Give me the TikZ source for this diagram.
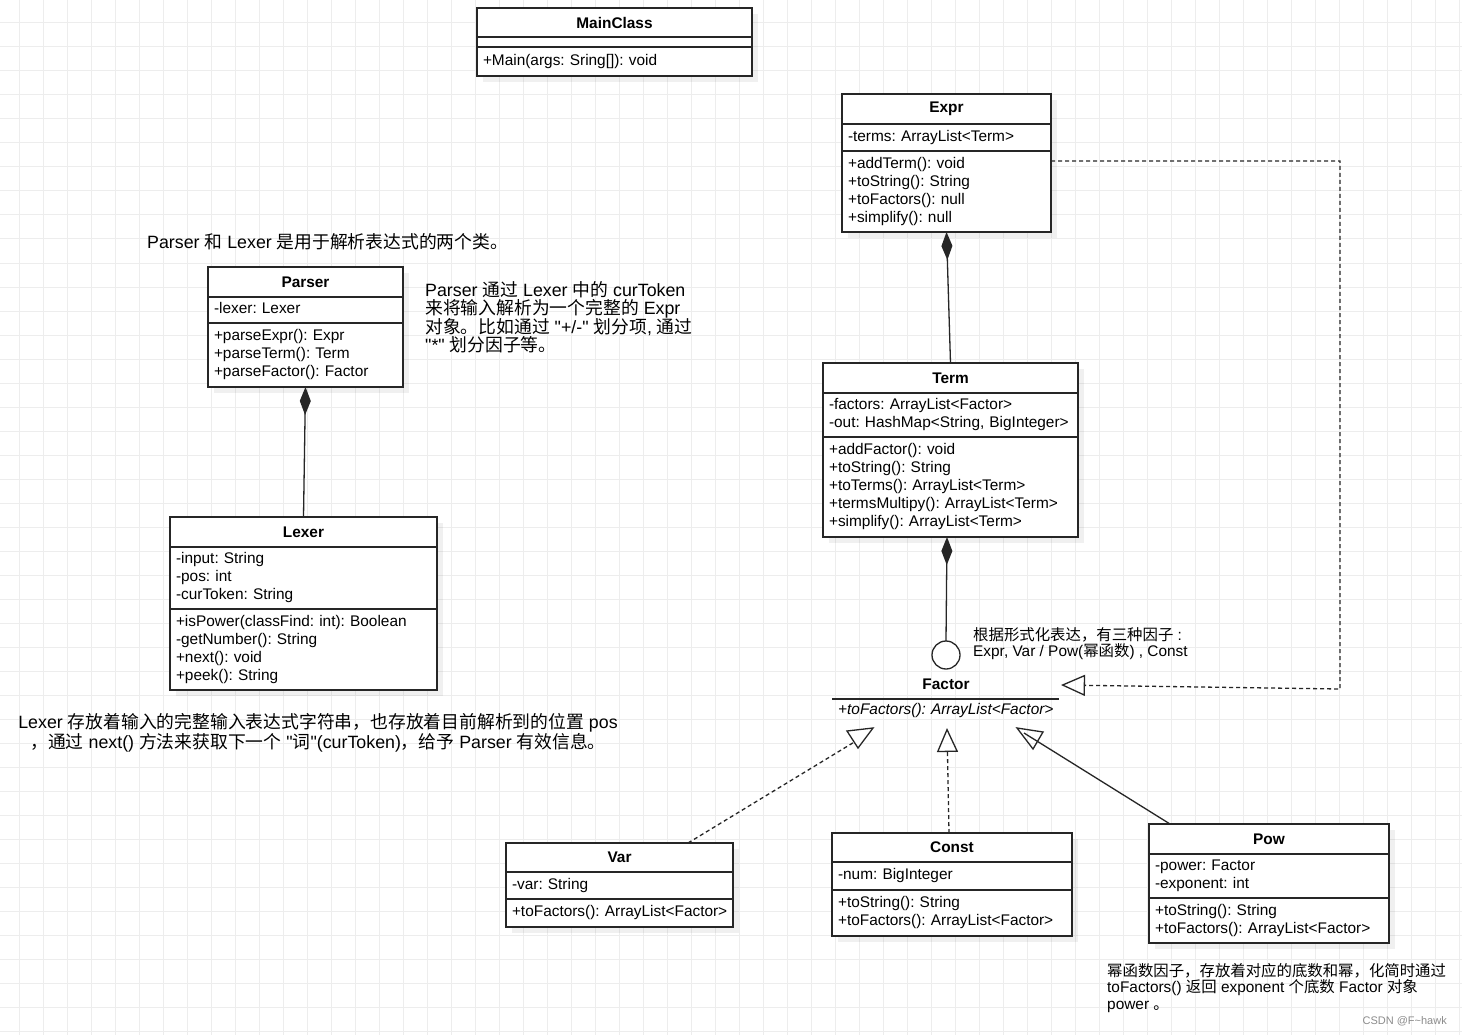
\documentclass[tikz,border=0pt]{standalone}
\usepackage{fontspec}
\setmainfont{Liberation Sans}
\newfontfamily\cjk{Noto Sans CJK SC}
\newcommand{\zh}[1]{{\cjk #1}}
\frenchspacing
\usetikzlibrary{arrows.meta, calc, shadows}
\tikzset{
  gridline/.style={draw=black!7, line width=1pt},
  boxline/.style={draw=black!85, line width=1.3pt, fill=white, outer sep=0pt},
  clsshadow/.style={drop shadow={shadow xshift=6pt, shadow yshift=-6pt, fill=black, opacity=0.06}},
  clshead/.style={boxline, clsshadow, anchor=north west, minimum width=#1, inner sep=0pt,
    font=\fontsize{15.4}{18}\selectfont\bfseries},
  clsbody/.style={anchor=north west, minimum width=#1, text width=#1-12pt,
    inner xsep=6pt, inner ysep=0pt, align=left, font=\fontsize{15.4}{18}\selectfont,
    execute at begin node=\strut, execute at end node=\strut},
  clspart/.style={boxline, clsshadow, clsbody=#1},
  note/.style={inner sep=0pt, font=\fontsize{17.8}{18}\selectfont},
  smallnote/.style={inner sep=0pt, font=\fontsize{15.4}{16.5}\selectfont},
  link/.style={line width=1.3pt, draw=black!85},
  realize/.style={link, dash pattern=on 4pt off 3pt},
  owns/.style={link, {Diamond[length=28pt, width=11pt]}-},
  hollow/.style={-{Triangle[open, length=24pt, width=21pt]}}
}

\begin{document}
\begin{tikzpicture}[x=1pt, y=-1pt]
  \useasboundingbox (0,0) rectangle (1462,1035);
  \fill[white] (0,0) rectangle (1462,1035);
  \foreach \gx in {19.5,43.5,...,1462} \draw[gridline] (\gx,0) -- (\gx,1035);
  \foreach \gy in {23,47,...,1035} \draw[gridline] (0,\gy) -- (1462,\gy);

  % classes
  \node[clshead=275, minimum height=29] (main) at (477,8) {MainClass};
  \node[clshead=275, minimum height=10] (main-f) at (main.south west) {};
  \node[clspart=275, minimum height=29] (main-m) at (main-f.south west) {+Main(args: Sring[]): void};

  \node[clshead=209, minimum height=30] (expr) at (842,94) {Expr};
  \node[clspart=209, minimum height=27] (expr-f) at (expr.south west) {-terms: ArrayList<Term>};
  \node[clspart=209, minimum height=81] (expr-m) at (expr-f.south west) {+addTerm(): void\\+toString(): String\\+toFactors(): null\\+simplify(): null};

  \node[clshead=195, minimum height=30] (parser) at (208,267) {Parser};
  \node[clspart=195, minimum height=26] (parser-f) at (parser.south west) {-lexer: Lexer};
  \node[clspart=195, minimum height=64] (parser-m) at (parser-f.south west) {+parseExpr(): Expr\\+parseTerm(): Term\\+parseFactor(): Factor};

  \node[clshead=267, minimum height=30] (lexer) at (170,517) {Lexer};
  \node[clspart=267, minimum height=62] (lexer-f) at (lexer.south west) {-input: String\\-pos: int\\-curToken: String};
  \node[clspart=267, minimum height=81] (lexer-m) at (lexer-f.south west) {+isPower(classFind: int): Boolean\\-getNumber(): String\\+next(): void\\+peek(): String};

  \node[clshead=255, minimum height=30] (term) at (823,363) {Term};
  \node[clspart=255, minimum height=44] (term-f) at (term.south west) {-factors: ArrayList<Factor>\\-out:~HashMap<String,~BigInteger>};
  \node[clspart=255, minimum height=100] (term-m) at (term-f.south west) {+addFactor(): void\\+toString(): String\\+toTerms(): ArrayList<Term>\\+termsMultipy():~ArrayList<Term>\\+simplify(): ArrayList<Term>};

  \node[clshead=227, minimum height=29] (var) at (506,843) {Var};
  \node[clspart=227, minimum height=27] (var-f) at (var.south west) {-var: String};
  \node[clspart=227, minimum height=28] (var-m) at (var-f.south west) {+toFactors():~ArrayList<Factor>};

  \node[clshead=240, minimum height=29] (const) at (832,833) {Const};
  \node[clspart=240, minimum height=28] (const-f) at (const.south west) {-num: BigInteger};
  \node[clspart=240, minimum height=46] (const-m) at (const-f.south west) {+toString(): String\\+toFactors():~ArrayList<Factor>};

  \node[clshead=240, minimum height=30] (pow) at (1149,824) {Pow};
  \node[clspart=240, minimum height=44] (pow-f) at (pow.south west) {-power: Factor\\-exponent: int};
  \node[clspart=240, minimum height=45] (pow-m) at (pow-f.south west) {+toString(): String\\+toFactors():~ArrayList<Factor>};

  % Factor interface
  \node[boxline, circle, minimum size=28pt, inner sep=0pt] (ball) at (946,655) {};
  \node[inner sep=0pt, font=\fontsize{15.4}{18}\selectfont\bfseries] (factor) at (946,684) {Factor};
  \node[clsbody=227, minimum height=24, font=\fontsize{15.4}{18}\selectfont\itshape] (factor-m) at (832,699) {+toFactors():~ArrayList<Factor>};
  \draw[link] (factor-m.north west) -- (factor-m.north east);

  % links
  \draw[owns] (expr-m.south) -- (term.north);
  \draw[owns] (parser-m.south) -- (lexer.north);
  \draw[owns] ($(term-m.south)+(-3.5,0)$) -- (ball.north);

  \coordinate (exprtip) at (1061,685);
  \draw[realize, hollow] ($(expr-m.north east)+(0,10)$) -- (1340,161) -- (1340,689) -- (exprtip);

  \coordinate (consttip) at (947,728);
  \draw[realize, hollow] ($(const.north)+(-3,0)$) -- (consttip);

  \coordinate (vartip) at (856,741);
  \draw[realize] ($(var.north west)+(182,0)$) -- (vartip);
  \draw[link, fill=white] (847,731) -- (873,728) -- (858,748) -- cycle;

  \coordinate (powtip) at (1024,733);
  \draw[link] ($(pow.north west)+(21,0)$) -- (powtip);
  \draw[link] (1017,728) -- (1043,732) -- (1033,749) -- cycle;

  % notes
  \node[note, anchor=west] (note-pl) at (147,242) {Parser \zh{和} Lexer \zh{是用于解析表达式的两个类。}};
  \node[note, anchor=north west, align=left] (note-parser) at (425,281) {Parser \zh{通过} Lexer \zh{中的} curToken\\\zh{来将输入解析为一个完整的} Expr\\\zh{对象。比如通过} \textquotedbl+/-\textquotedbl{} \zh{划分项}, \zh{通过}\\\textquotedbl*\textquotedbl{} \zh{划分因子等。}};
  \node[note, anchor=north, align=center] (note-lexer) at (318,713) {Lexer \zh{存放着输入的完整输入表达式字符串，也存放着目前解析到的位置} pos\\\zh{，通过} next() \zh{方法来获取下一个} \textquotedbl\zh{词}\textquotedbl(curToken)\zh{，给予} Parser \zh{有效信息。}};
  \node[smallnote, anchor=north west, align=left] (note-factor) at (973,627) {\zh{根据形式化表达，有三种因子} :\\Expr, Var / Pow(\zh{幂函数}) , Const};
  \node[smallnote, anchor=north west, align=left] (note-pow) at (1107,963) {\zh{幂函数因子，存放着对应的底数和幂，化简时通过}\\toFactors() \zh{返回} exponent \zh{个底数} Factor \zh{对象}\\power \zh{。}};
  \node[inner sep=0pt, anchor=east, text=black!45, font=\fontsize{11}{12}\selectfont] (credit) at (1447,1021) {CSDN @F\textasciitilde hawk};
\end{tikzpicture}
\end{document}
